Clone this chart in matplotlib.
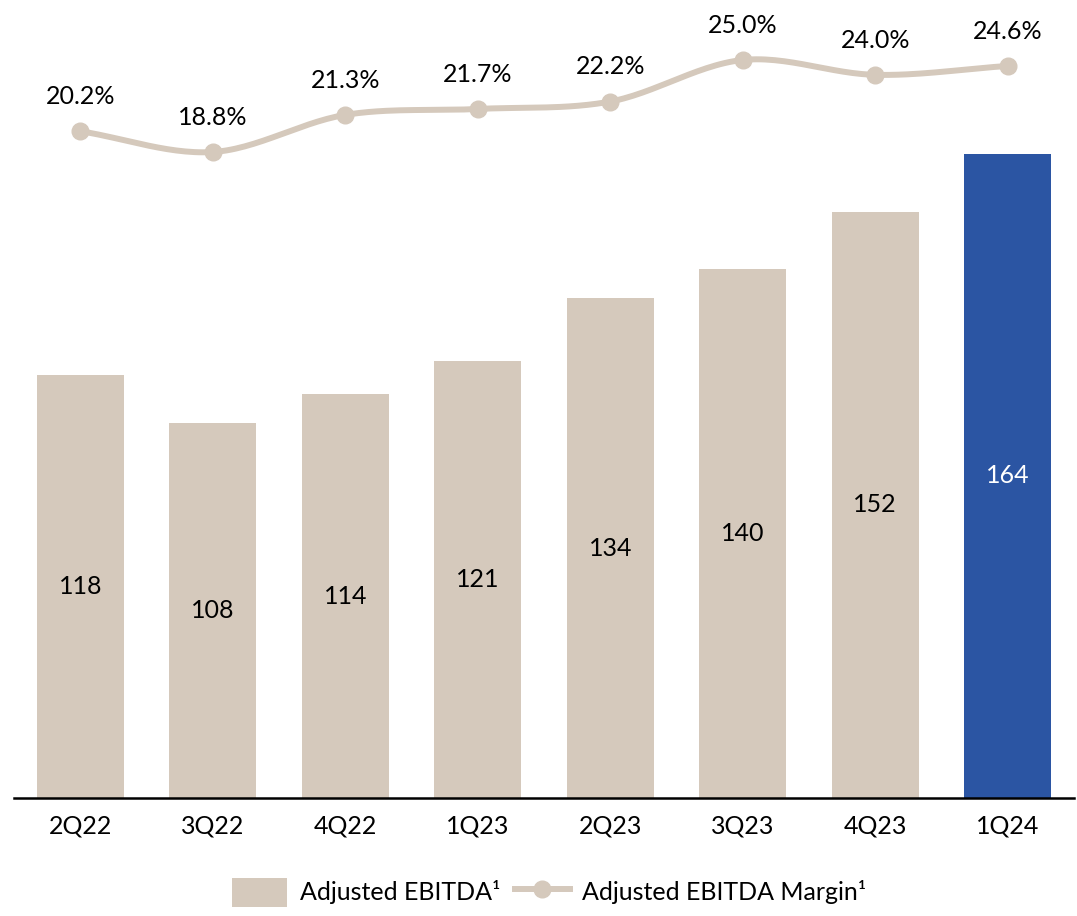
import numpy as np
import matplotlib
matplotlib.use('Agg')
import matplotlib.pyplot as plt
from matplotlib.patches import Patch
from matplotlib.lines import Line2D

plt.rcParams['font.family'] = ['Lato', 'DejaVu Sans']

quarters = ['2Q22', '3Q22', '4Q22', '1Q23', '2Q23', '3Q23', '4Q23', '1Q24']
ebitda = [118, 108, 114, 121, 134, 140, 152, 164]
margin = [20.2, 18.8, 21.3, 21.7, 22.2, 25.0, 24.0, 24.6]

BEIGE = '#D5C9BC'
BLUE = '#2B55A3'
FS = 18


def smooth(x, y, n=30):
    # catmull-rom style smoothing, like the spreadsheet "smoothed line"
    x = np.asarray(x, float)
    y = np.asarray(y, float)
    px = np.concatenate([[2 * x[0] - x[1]], x, [2 * x[-1] - x[-2]]])
    py = np.concatenate([[2 * y[0] - y[1]], y, [2 * y[-1] - y[-2]]])
    xs, ys = [], []
    t = np.linspace(0, 1, n)
    for i in range(1, len(px) - 2):
        for arr, out in ((px, xs), (py, ys)):
            p0, p1, p2, p3 = arr[i - 1:i + 3]
            out.extend(0.5 * ((2 * p1) + (-p0 + p2) * t +
                              (2 * p0 - 5 * p1 + 4 * p2 - p3) * t ** 2 +
                              (-p0 + 3 * p1 - 3 * p2 + p3) * t ** 3))
    return np.array(xs), np.array(ys)


fig = plt.figure(figsize=(10.77, 9.16), dpi=100)
ax = fig.add_axes([14 / 1077, 118 / 916, 1060 / 1077, 798 / 916])
x = np.arange(len(quarters))
colors = [BEIGE] * (len(quarters) - 1) + [BLUE]
bars = ax.bar(x, ebitda, width=0.66, color=colors, zorder=2)
ax.set_ylim(30, 30 + 798 / 4.807)
ax.set_xlim(-0.5, len(quarters) - 0.5)

for xi, v, c in zip(x, ebitda, colors):
    ax.text(xi, 30 + (v - 30) / 2, str(v), ha='center', va='center',
            fontsize=FS, color='white' if c == BLUE else 'black')

for s in ['top', 'right', 'left']:
    ax.spines[s].set_visible(False)
ax.spines['bottom'].set_linewidth(1.8)
ax.set_yticks([])
ax.set_xticks(x)
ax.set_xticklabels(quarters, fontsize=FS)
ax.tick_params(axis='x', length=0, pad=12)

ax2 = ax.twinx()
ax2.set_ylim(18.8 - (798 - 152) / 14.84, 18.8 + 152 / 14.84)
ax2.axis('off')
sx, sy = smooth(x, margin)
ax2.plot(sx, sy, color=BEIGE, lw=4.3, zorder=3, solid_capstyle='round')
ax2.plot(x, margin, 'o', color=BEIGE, ms=12, zorder=4)
for xi, m in zip(x, margin):
    ax2.annotate(f'{m:.1f}%', (xi, m), xytext=(0, 25), textcoords='offset points',
                 ha='center', va='center', fontsize=FS)

handles = [Patch(facecolor=BEIGE, edgecolor='none'),
           Line2D([], [], color=BEIGE, lw=4.3, marker='o', ms=12)]
fig.legend(handles, ['Adjusted EBITDA\u00b9', 'Adjusted EBITDA Margin\u00b9'],
           loc='center', bbox_to_anchor=(0.51, 0.026), ncol=2, frameon=False,
           fontsize=FS, handlelength=2.2, handleheight=1.4, columnspacing=0.6,
           handletextpad=0.5)

fig.savefig('out.png', dpi=100, facecolor='white')
